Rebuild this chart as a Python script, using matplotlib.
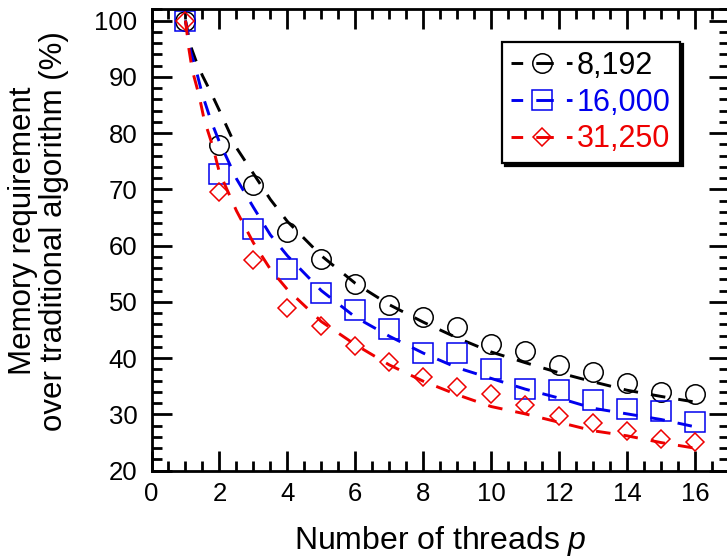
import matplotlib
matplotlib.use("Agg")
import matplotlib.pyplot as plt
from matplotlib.lines import Line2D
from matplotlib.ticker import MultipleLocator

plt.rcParams['font.family'] = ['Liberation Sans', 'DejaVu Sans']
plt.rcParams['mathtext.fontset'] = 'custom'
plt.rcParams['mathtext.rm'] = 'Liberation Sans'
plt.rcParams['mathtext.it'] = 'Liberation Sans:italic'

# measured points (memory requirement in %, per thread count)
threads = list(range(1, 17))
mem_8192 = [100, 77.9, 70.7, 62.4, 57.7, 53.2, 49.4, 47.3, 45.5, 42.6, 41.3, 38.7, 37.6, 35.5, 34.0, 33.7]
mem_16000 = [100, 72.7, 62.9, 55.8, 51.5, 48.5, 45.1, 40.9, 40.9, 38.0, 34.6, 34.3, 32.5, 30.9, 30.6, 28.7]
mem_31250 = [100, 69.5, 57.5, 49.0, 45.8, 42.1, 39.3, 36.7, 34.9, 33.6, 31.6, 29.7, 28.4, 27.1, 25.6, 25.1]

# dashed model curves
fit_p_8192 = [1, 1.15, 1.3, 1.5, 1.75, 2, 2.5, 3, 3.5, 4, 5, 6, 7, 8, 9, 10, 11, 12, 13, 14, 15, 16]
fit_8192 = [100, 95.5, 93, 90.2, 87.2, 84, 77.4, 72.8, 68.2, 64.3, 58.2, 53.3, 49.5, 46.4, 43.6, 41.1, 39.2, 37.4, 35.8, 34.3, 33.2, 32.2]
fit_p_16000 = [1, 1.15, 1.3, 1.5, 1.75, 2, 2.5, 3, 3.5, 4, 5, 6, 7, 8, 9, 10, 11, 12, 13, 14, 15, 16]
fit_16000 = [100, 94.5, 91.5, 86.8, 82.2, 78.4, 71.9, 66.8, 61.9, 58.2, 52.0, 47.3, 43.9, 40.9, 38.3, 36.4, 34.5, 32.9, 31.1, 30.1, 29.1, 27.8]
fit_p_31250 = [1, 1.1, 1.2, 1.4, 1.55, 1.8, 2, 2.5, 3, 3.5, 4, 5, 6, 7, 8, 9, 10, 11, 12, 13, 14, 15, 16]
fit_31250 = [100, 95, 91.2, 86.7, 82.4, 77.7, 73.0, 66.2, 60.5, 55.8, 52.2, 46.5, 42.4, 38.8, 35.9, 33.5, 31.4, 30.1, 28.6, 27.1, 26.2, 25.0, 24.0]

labels = ["8,192", "16,000", "31,250"]
colors = ["black", "#0000ee", "#ee0000"]
markers = ["o", "s", "D"]
msizes = [14, 14, 9.5]

W, H = 727, 558
fig = plt.figure(figsize=(W / 100, H / 100), dpi=100)
ax = fig.add_axes([151.5 / W, 87.3 / H, (729 - 151.5) / W, (548.7 - 87.3) / H])

dash = (0, (5, 4.5))
series = [(fit_p_8192, fit_8192, mem_8192),
          (fit_p_16000, fit_16000, mem_16000),
          (fit_p_31250, fit_31250, mem_31250)]
handles = []
for (fp, fv, mv), c, m, ms, lab in zip(series, colors, markers, msizes, labels):
    ax.plot(fp, fv, linestyle=dash, color=c, lw=2.1)  # model curve
    ax.plot(threads, mv, linestyle='none', marker=m, ms=ms, mfc='none', mec=c, mew=1.1)  # measured
    handles.append(Line2D([], [], linestyle=(2, (6, 4.5)), color=c, lw=2.1, marker=m, ms=ms,
                          mfc='none', mec=c, mew=1.1, label=lab))

ax.set_xlim(0, 17)
ax.set_ylim(20, 102)
ax.xaxis.set_major_locator(MultipleLocator(2))
ax.xaxis.set_minor_locator(MultipleLocator(0.5))
ax.yaxis.set_major_locator(MultipleLocator(10))
ax.yaxis.set_minor_locator(MultipleLocator(2))
ax.tick_params(which='both', direction='in', top=True, right=True, width=2, labelsize=18.5)
ax.tick_params(which='major', length=14.5)
ax.tick_params(which='minor', length=7)
ax.tick_params(axis='x', pad=8)
ax.tick_params(axis='y', pad=10)
for s in ax.spines.values():
    s.set_linewidth(2)

ax.set_xlabel("Number of threads $p$", fontsize=23)
ax.xaxis.set_label_coords(0.5, -0.115)
ax.set_ylabel("Memory requirement\nover traditional algorithm (%)", fontsize=22.5,
              linespacing=1.05, va='center')
ax.yaxis.set_label_coords(-0.195, 0.52)

leg = ax.legend(handles=handles, loc='upper right', bbox_to_anchor=(680 / W, (H - 41.7) / H),
                bbox_transform=fig.transFigure, borderaxespad=0, fontsize=22,
                labelcolor='linecolor', handlelength=2.0, handletextpad=0.15,
                labelspacing=0.22, borderpad=0.3, fancybox=False,
                shadow={'color': 'black', 'alpha': 1})
leg.get_frame().set_edgecolor('black')
leg.get_frame().set_linewidth(1.6)

fig.savefig("out.png", dpi=100)
